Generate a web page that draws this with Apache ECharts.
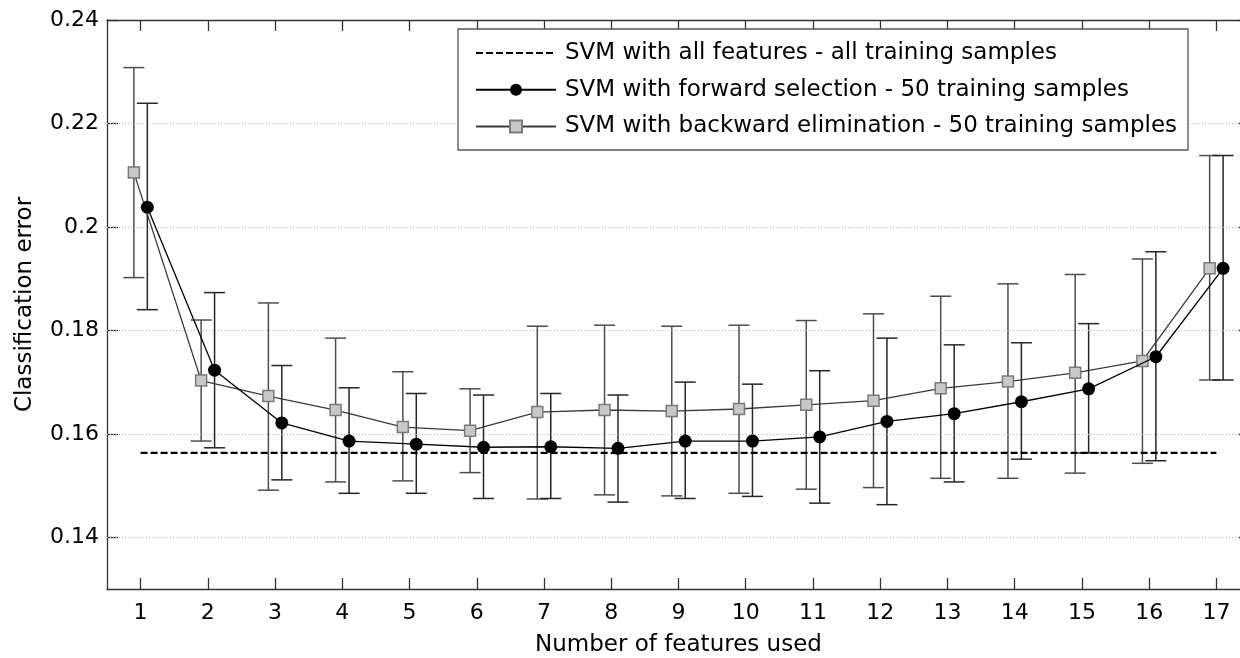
<!DOCTYPE html>
<html>
<head>
<meta charset="utf-8">
<script src="https://cdn.jsdelivr.net/npm/echarts@6/dist/echarts.min.js"></script>
<style>
  html, body { margin: 0; padding: 0; background: #ffffff; }
  #chart { width: 1240px; height: 658px; }
</style>
</head>
<body>
<div id="chart"></div>
<script>
// Number of selected features on the x axis
const features = [1, 2, 3, 4, 5, 6, 7, 8, 9, 10, 11, 12, 13, 14, 15, 16, 17];

// Forward selection (50 training samples): mean error and error-bar ends
const forwardMean = [0.2038, 0.1723, 0.1621, 0.1586, 0.1580, 0.1574, 0.1575, 0.1572, 0.1586,
                     0.1586, 0.1594, 0.1624, 0.1639, 0.1662, 0.1687, 0.1749, 0.1920];
const forwardLow  = [0.1840, 0.1573, 0.1511, 0.1485, 0.1485, 0.1475, 0.1475, 0.1468, 0.1475,
                     0.1479, 0.1466, 0.1463, 0.1507, 0.1551, 0.1563, 0.1548, 0.1704];
const forwardHigh = [0.2239, 0.1873, 0.1732, 0.1689, 0.1678, 0.1675, 0.1678, 0.1675, 0.1700,
                     0.1696, 0.1722, 0.1785, 0.1772, 0.1776, 0.1813, 0.1952, 0.2138];

// Backward elimination (50 training samples): mean error and error-bar ends
const backwardMean = [0.2105, 0.1703, 0.1673, 0.1646, 0.1613, 0.1606, 0.1642, 0.1646, 0.1644,
                      0.1648, 0.1656, 0.1664, 0.1688, 0.1701, 0.1718, 0.1741, 0.1920];
const backwardLow  = [0.1902, 0.1586, 0.1491, 0.1507, 0.1509, 0.1525, 0.1474, 0.1482, 0.1480,
                      0.1485, 0.1493, 0.1496, 0.1514, 0.1514, 0.1524, 0.1543, 0.1704];
const backwardHigh = [0.2308, 0.1820, 0.1853, 0.1785, 0.1720, 0.1687, 0.1808, 0.1810, 0.1808,
                      0.1810, 0.1819, 0.1832, 0.1866, 0.1890, 0.1908, 0.1938, 0.2138];

// SVM trained on all features with all training samples
const allFeaturesError = 0.1563;

// Axis ticks
const xTicks = [1, 2, 3, 4, 5, 6, 7, 8, 9, 10, 11, 12, 13, 14, 15, 16, 17];
const yTicks = [0.14, 0.16, 0.18, 0.2, 0.22, 0.24];

const seriesNames = [
  'SVM with all features - all training samples',
  'SVM with forward selection - 50 training samples',
  'SVM with backward elimination - 50 training samples'
];

// The two methods are nudged apart horizontally so their error bars don't overlap
const SHIFT = 0.1;
const CAP = 21;
const FONT = '"DejaVu Sans", "Liberation Sans", Arial, sans-serif';
const INK = '#000';

const forwardPts = features.map((f, i) => [f + SHIFT, forwardMean[i]]);
const backwardPts = features.map((f, i) => [f - SHIFT, backwardMean[i]]);
const forwardBars = features.map((f, i) => [f + SHIFT, forwardLow[i], forwardHigh[i]]);
const backwardBars = features.map((f, i) => [f - SHIFT, backwardLow[i], backwardHigh[i]]);

function errorBars(color) {
  return function (params, api) {
    const x = api.value(0);
    const top = api.coord([x, api.value(2)]);
    const bot = api.coord([x, api.value(1)]);
    const h = CAP / 2;
    const style = { stroke: color, lineWidth: 1.5, fill: null };
    return {
      type: 'group',
      children: [
        { type: 'line', shape: { x1: top[0], y1: top[1], x2: bot[0], y2: bot[1] }, style: style },
        { type: 'line', shape: { x1: top[0] - h, y1: top[1], x2: top[0] + h, y2: top[1] }, style: style },
        { type: 'line', shape: { x1: bot[0] - h, y1: bot[1], x2: bot[0] + h, y2: bot[1] }, style: style }
      ]
    };
  };
}

const axisLineStyle = { color: '#333', width: 1.3 };

const chart = echarts.init(document.getElementById('chart'), null, { renderer: 'canvas' });
chart.setOption({
  animation: false,
  backgroundColor: '#ffffff',
  textStyle: { fontFamily: FONT },
  grid: { left: 107, top: 20, right: -10, bottom: 69, outerBoundsMode: 'none' },
  xAxis: [
    {
      type: 'value', min: 0.5, max: 17.5,
      name: 'Number of features used', nameLocation: 'middle', nameGap: 45,
      nameTextStyle: { fontFamily: FONT, fontSize: 23, color: INK },
      axisLine: { show: true, onZero: false, lineStyle: axisLineStyle },
      axisTick: { show: true, inside: true, length: 11, customValues: xTicks, lineStyle: axisLineStyle },
      axisLabel: { show: true, customValues: xTicks, margin: 13, fontFamily: FONT, fontSize: 22, color: INK },
      splitLine: { show: false }
    },
    {
      type: 'value', min: 0.5, max: 17.5, position: 'top',
      axisLine: { show: true, onZero: false, lineStyle: axisLineStyle },
      axisTick: { show: true, inside: true, length: 11, customValues: xTicks, lineStyle: axisLineStyle },
      axisLabel: { show: false },
      splitLine: { show: false }
    }
  ],
  yAxis: [
    {
      type: 'value', min: 0.13, max: 0.24,
      name: 'Classification error', nameLocation: 'middle', nameGap: 70, nameRotate: 90,
      nameTextStyle: { fontFamily: FONT, fontSize: 23, color: INK },
      axisLine: { show: true, onZero: false, lineStyle: axisLineStyle },
      axisTick: { show: true, inside: true, length: 11, customValues: yTicks, lineStyle: axisLineStyle },
      axisLabel: { show: true, customValues: yTicks, margin: 8, fontFamily: FONT, fontSize: 22, color: INK,
                   formatter: v => String(+v.toFixed(2)) },
      splitLine: { show: false }
    },
    {
      type: 'value', min: 0.13, max: 0.24, position: 'right',
      axisLine: { show: true, onZero: false, lineStyle: axisLineStyle },
      axisTick: { show: true, inside: true, length: 11, customValues: yTicks, lineStyle: axisLineStyle },
      axisLabel: { show: false },
      splitLine: { show: false }
    }
  ],
  legend: {
    orient: 'vertical', left: 475, top: 39, padding: 0, z: 60,
    itemWidth: 80, itemHeight: 15, itemGap: 8.7,
    data: seriesNames,
    textStyle: { fontFamily: FONT, fontSize: 23, color: INK, lineHeight: 28, padding: [0, 0, 0, 4] },
    selectedMode: false
  },
  graphic: [
    {
      type: 'rect', z: 50, silent: true,
      shape: { x: 458, y: 29, width: 730, height: 121 },
      style: { fill: '#ffffff', stroke: '#555', lineWidth: 1.3 }
    }
  ],
  series: [
    {
      // horizontal dotted grid at the labelled y ticks
      type: 'line', data: [], silent: true, z: 1,
      markLine: {
        silent: true, symbol: ['none', 'none'], label: { show: false },
        lineStyle: { color: '#b5b5b5', width: 1, type: [1, 2] },
        emphasis: { disabled: true },
        data: yTicks.slice(0, -1).map(v => ({ yAxis: v }))
      }
    },
    {
      type: 'custom', z: 3, silent: true,
      renderItem: errorBars('#4d4d4d'),
      encode: { x: 0, y: [1, 2] },
      data: backwardBars
    },
    {
      type: 'custom', z: 3, silent: true,
      renderItem: errorBars('#262626'),
      encode: { x: 0, y: [1, 2] },
      data: forwardBars
    },
    {
      name: seriesNames[0], type: 'line', z: 4, silent: true,
      data: [[features[0], allFeaturesError], [features[features.length - 1], allFeaturesError]],
      symbol: 'none', showSymbol: false,
      lineStyle: { color: '#000', width: 2.2, type: [7, 3] },
      itemStyle: { color: 'rgba(0,0,0,0)', borderColor: 'rgba(0,0,0,0)', borderWidth: 0 }
    },
    {
      name: seriesNames[2], type: 'line', z: 5, silent: true,
      data: backwardPts,
      symbol: 'rect', symbolSize: 11, showSymbol: true,
      lineStyle: { color: '#3a3a3a', width: 1.3 },
      itemStyle: { color: '#c8c8c8', borderColor: '#7a7a7a', borderWidth: 1.5 }
    },
    {
      name: seriesNames[1], type: 'line', z: 6, silent: true,
      data: forwardPts,
      symbol: 'circle', symbolSize: 13, showSymbol: true,
      lineStyle: { color: '#000', width: 1.3 },
      itemStyle: { color: '#000' }
    }
  ]
});
</script>
</body>
</html>
